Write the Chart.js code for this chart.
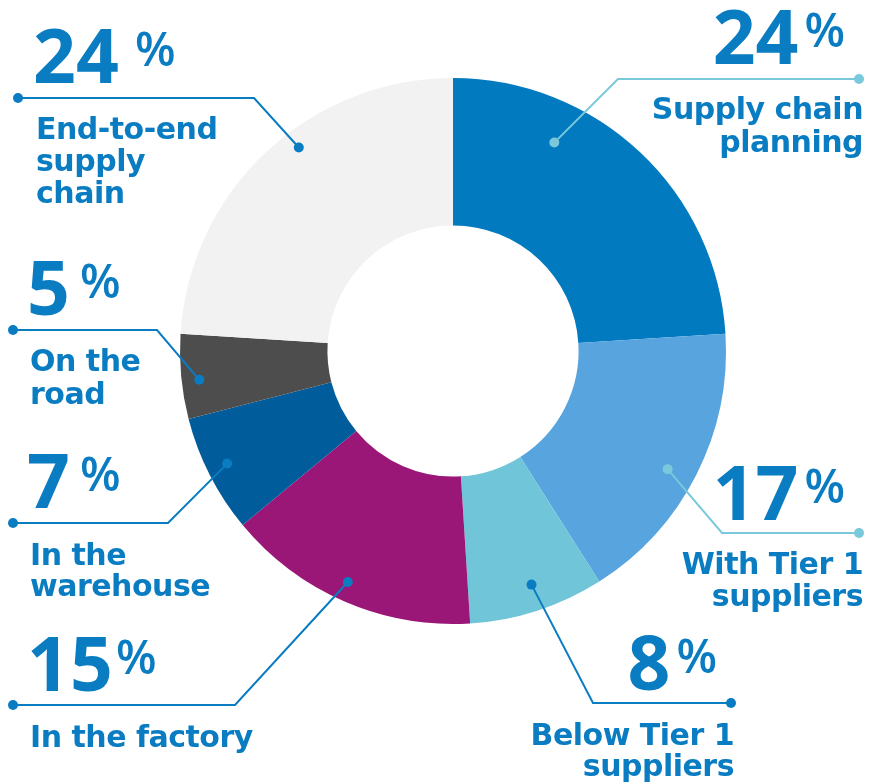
<!DOCTYPE html>
<html>
<head>
<meta charset="utf-8">
<script src="https://cdn.jsdelivr.net/npm/chart.js@4.4.1/dist/chart.umd.min.js"></script>
<style>
  html, body { margin: 0; padding: 0; background: #fff; }
  #wrap { width: 869px; height: 783px; position: relative; }
</style>
</head>
<body>
<div id="wrap"><canvas id="donut"></canvas></div>
<script>
// slices, clockwise from 12 o'clock
const categories = [
    ['Supply chain', 'planning'],
    ['With Tier 1', 'suppliers'],
    ['Below Tier 1', 'suppliers'],
    ['In the factory'],
    ['In the', 'warehouse'],
    ['On the', 'road'],
    ['End-to-end', 'supply', 'chain']
];
const shares = [24, 17, 8, 15, 7, 5, 24];
const sliceColors = ['#027ac0', '#57a4df', '#70c6d8', '#9a1778', '#005c9a', '#4d4d4d', '#f2f2f2'];

const TEXT = '#0a7cc2';
const CYAN = '#79c9da';
const NUM_FONT = '"Open Sans", sans-serif';
const LABEL_FONT = '"DejaVu Sans", sans-serif';

// where each callout goes: dot inside the slice (fraction of angle / ring depth),
// elbow of the leader, outer end of the leader, text anchor and baselines
const callouts = [
    { af: 0.30, rf: 0.72, color: CYAN, elbow: [618, 79],  end: 859, align: 'right', x: 863, pctX: 845, num: 64,  lines: [119, 152] },
    { af: 0.53, rf: 0.81, color: CYAN, elbow: [722, 533], end: 859, align: 'right', x: 863, pctX: 845, num: 520, lines: [574, 606] },
    { af: 0.48, rf: 0.82, color: TEXT, elbow: [593, 703], end: 731, align: 'right', x: 734, pctX: 717, num: 690, lines: [745, 776] },
    { af: 0.52, rf: 0.87, color: TEXT, elbow: [235, 705], end: 13,  align: 'left',  x: 30,  pctX: 116, num: 691, lines: [747] },
    { af: 0.52, rf: 0.86, color: TEXT, elbow: [168, 523], end: 13,  align: 'left',  x: 30,  pctX: 80,  num: 508, lines: [565, 596] },
    { af: 0.44, rf: 0.88, color: TEXT, elbow: [157, 330], end: 13,  align: 'left',  x: 30,  pctX: 80,  num: 315, lines: [371, 404] },
    { af: 0.57, rf: 0.88, color: TEXT, elbow: [254, 98],  end: 18,  align: 'left',  x: 36,  pctX: 135, num: 83,  lines: [139, 171, 203] }
];

const calloutPlugin = {
    id: 'callouts',
    afterDraw(chart) {
        const ctx = chart.ctx;
        const arcs = chart.getDatasetMeta(0).data;
        ctx.save();
        arcs.forEach((arc, i) => {
            const c = callouts[i];
            const a = arc.startAngle + c.af * (arc.endAngle - arc.startAngle);
            const r = arc.innerRadius + c.rf * (arc.outerRadius - arc.innerRadius);
            const px = arc.x + r * Math.cos(a);
            const py = arc.y + r * Math.sin(a);

            // leader
            ctx.strokeStyle = c.color;
            ctx.fillStyle = c.color;
            ctx.lineWidth = 2;
            ctx.beginPath();
            ctx.moveTo(px, py);
            ctx.lineTo(c.elbow[0], c.elbow[1]);
            ctx.lineTo(c.end, c.elbow[1]);
            ctx.stroke();
            [[px, py], [c.end, c.elbow[1]]].forEach(p => {
                ctx.beginPath();
                ctx.arc(p[0], p[1], 5, 0, Math.PI * 2);
                ctx.fill();
            });

            // big number + small percent sign
            ctx.fillStyle = TEXT;
            ctx.textBaseline = 'alphabetic';
            ctx.textAlign = 'left';
            ctx.letterSpacing = '0px';
            const num = String(shares[i]);
            const numFont = 'bold 75px ' + NUM_FONT;
            const pctFont = '600 47px ' + NUM_FONT;
            ctx.font = numFont;
            const numW = ctx.measureText(num).width;
            if (c.align === 'left') {
                ctx.fillText(num, c.x - 3, c.num);
                ctx.font = pctFont;
                ctx.fillText('%', c.pctX, c.num - 17);
            } else {
                ctx.font = pctFont;
                const pctW = ctx.measureText('%').width;
                ctx.fillText('%', c.pctX - pctW, c.num - 17);
                ctx.font = numFont;
                ctx.fillText(num, c.pctX - pctW - 6 - numW, c.num);
            }

            // category text
            ctx.font = 'bold 30px ' + LABEL_FONT;
            ctx.letterSpacing = '-0.5px';
            ctx.textAlign = c.align;
            categories[i].forEach((line, k) => {
                ctx.fillText(line, c.x, c.lines[k]);
            });
        });
        ctx.restore();
    }
};

new Chart(document.getElementById('donut').getContext('2d'), {
    type: 'doughnut',
    data: {
        labels: categories.map(l => l.join(' ')),
        datasets: [{
            data: shares,
            backgroundColor: sliceColors,
            borderWidth: 0
        }]
    },
    options: {
        responsive: true,
        maintainAspectRatio: false,
        animation: false,
        cutout: '46%',
        layout: { padding: { left: 180, right: 143, top: 78, bottom: 159 } },
        plugins: {
            legend: { display: false },
            tooltip: { enabled: false }
        }
    },
    plugins: [calloutPlugin]
});
</script>
</body>
</html>
